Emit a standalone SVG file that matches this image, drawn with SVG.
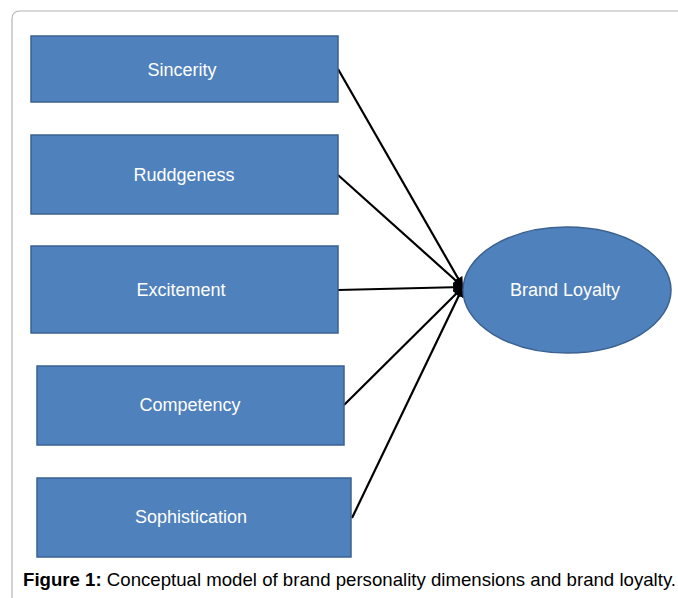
<svg xmlns="http://www.w3.org/2000/svg" width="678" height="598" viewBox="0 0 678 598">
<defs>
<style>
.box{fill:#4f81bd;stroke:#3a6190;stroke-width:1.5}
.lbl{font-family:"Liberation Sans",Arial,sans-serif;font-size:18px;fill:#ffffff;text-anchor:middle;dominant-baseline:central}
.edge{stroke:#000;stroke-width:2.2;fill:none;marker-end:url(#arr)}
.cap{font-family:"Liberation Sans",Arial,sans-serif;font-size:18.6px;fill:#000}
</style>
<marker id="arr" viewBox="0 0 10 10" refX="10" refY="5" markerWidth="4.5" markerHeight="4.5" orient="auto" markerUnits="strokeWidth">
<path d="M0,0 L10,5 L0,10 z" fill="#000"/>
</marker>
</defs>
<rect width="678" height="598" fill="#fff"/>
<path d="M12,598 L12,19 Q12,11 20,11 L678,11" fill="none" stroke="#b4b4b4" stroke-width="1.2"/>
<g id="connectors">
<line class="edge" x1="338" y1="69" x2="463" y2="287"/>
<line class="edge" x1="338" y1="175" x2="463" y2="287"/>
<line class="edge" x1="338" y1="290" x2="463" y2="287"/>
<line class="edge" x1="344" y1="405" x2="463" y2="287"/>
<line class="edge" x1="352" y1="518" x2="463" y2="287"/>
</g>
<g id="sincerity"><rect class="box" x="31" y="36" width="307" height="66"/><text class="lbl" x="182" y="70">Sincerity</text></g>
<g id="ruddgeness"><rect class="box" x="31" y="135" width="307" height="79"/><text class="lbl" x="184" y="175">Ruddgeness</text></g>
<g id="excitement"><rect class="box" x="31" y="246" width="307" height="87"/><text class="lbl" x="181" y="290">Excitement</text></g>
<g id="competency"><rect class="box" x="37" y="366" width="307" height="79"/><text class="lbl" x="190" y="405">Competency</text></g>
<g id="sophistication"><rect class="box" x="37" y="478" width="314" height="79"/><text class="lbl" x="191" y="517">Sophistication</text></g>
<g id="brand-loyalty"><ellipse class="box" cx="567" cy="290" rx="104" ry="63"/><text class="lbl" x="565" y="290">Brand Loyalty</text></g>
<text class="cap" x="23" y="586" textLength="653" lengthAdjust="spacingAndGlyphs"><tspan font-weight="bold">Figure 1:</tspan> Conceptual model of brand personality dimensions and brand loyalty.</text>
</svg>
